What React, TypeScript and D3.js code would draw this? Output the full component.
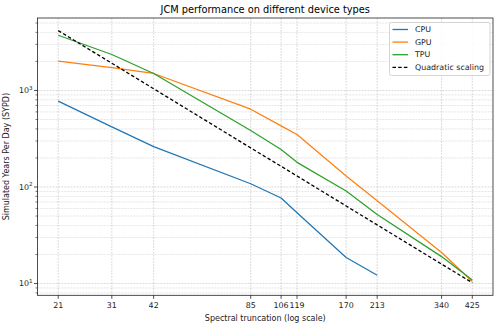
import React from "react";
import * as d3 from "d3";

// Spectral truncations (T21 ... T425) and throughput per device, in SYPD.
const RESOLUTIONS = [21, 31, 42, 85, 106, 119, 170, 213, 340, 425];
const CPU_SYPD = [775, 420, 262, 108, 77, 54, 18.6, 12.2];
const GPU_SYPD = [2010, 1720, 1500, 640, 430, 350, 130, 72, 21, 10.5];
const TPU_SYPD = [3730, 2360, 1500, 385, 245, 180, 91, 52, 19, 10.9];
const QUADRATIC_SYPD = [4170, 1914, 1042, 254, 164, 130, 63.6, 40.5, 15.9, 10.2];

const SERIES = [
  { name: "CPU", values: CPU_SYPD, color: "#1f77b4", dash: null as string | null },
  { name: "GPU", values: GPU_SYPD, color: "#ff7f0e", dash: null },
  { name: "TPU", values: TPU_SYPD, color: "#2ca02c", dash: null },
  { name: "Quadratic scaling", values: QUADRATIC_SYPD, color: "#000000", dash: "3.5 2.2" },
];

const Y_MAJOR = [10, 100, 1000];

const W = 500;
const H = 327;
const M = { top: 18, right: 7, bottom: 31.7, left: 37.5 };
const FONT = "DejaVu Sans, sans-serif";
const GRID = "#b0b0b0";
const TICK_FS = 7.9;

// matplotlib-style 5% padding in log space
function padLog(lo: number, hi: number, frac = 0.05): [number, number] {
  const a = Math.log10(lo);
  const b = Math.log10(hi);
  const p = (b - a) * frac;
  return [10 ** (a - p), 10 ** (b + p)];
}

export default function App() {
  const iW = W - M.left - M.right;
  const iH = H - M.top - M.bottom;

  const allY = SERIES.flatMap((s) => s.values);
  const x = d3
    .scaleLog()
    .domain(padLog(d3.min(RESOLUTIONS)!, d3.max(RESOLUTIONS)!))
    .range([0, iW]);
  const y = d3
    .scaleLog()
    .domain(padLog(d3.min(allY)!, d3.max(allY)!))
    .range([iH, 0]);

  const [yLo, yHi] = y.domain();
  const yMinor: number[] = [];
  for (let e = Math.floor(Math.log10(yLo)); e <= Math.ceil(Math.log10(yHi)); e++) {
    for (let k = 2; k <= 9; k++) {
      const v = k * 10 ** e;
      if (v >= yLo && v <= yHi) yMinor.push(v);
    }
  }

  const line = d3
    .line<number>()
    .x((_, i) => x(RESOLUTIONS[i]))
    .y((v) => y(v));

  return (
    <svg
      width={W}
      height={H}
      style={{ position: "absolute", left: 0, top: 0, background: "#fff" }}
      fontFamily={FONT}
    >
      <text x={M.left + iW / 2} y={12.8} textAnchor="middle" fontSize={9.8} fill="#000">
        JCM performance on different device types
      </text>

      <g transform={`translate(${M.left},${M.top})`}>
        {/* grid */}
        {yMinor.map((v) => (
          <line key={`ym${v}`} x1={0} x2={iW} y1={y(v)} y2={y(v)} stroke={GRID} strokeWidth={0.5} strokeDasharray="1.8 1.2" opacity={0.7} />
        ))}
        {Y_MAJOR.map((v) => (
          <line key={`yM${v}`} x1={0} x2={iW} y1={y(v)} y2={y(v)} stroke={GRID} strokeWidth={0.6} strokeDasharray="1.8 1.2" opacity={0.8} />
        ))}
        {RESOLUTIONS.map((r) => (
          <line key={`xg${r}`} x1={x(r)} x2={x(r)} y1={0} y2={iH} stroke={GRID} strokeWidth={0.6} strokeDasharray="1.8 1.2" opacity={0.8} />
        ))}

        {/* series */}
        {SERIES.map((s) => (
          <path
            key={s.name}
            d={line(s.values) ?? ""}
            fill="none"
            stroke={s.color}
            strokeWidth={s.dash ? 1.3 : 1.25}
            strokeDasharray={s.dash ?? undefined}
            strokeLinejoin="round"
          />
        ))}

        {/* spines */}
        <rect x={0} y={0} width={iW} height={iH} fill="none" stroke="#222" strokeWidth={0.8} />

        {/* x ticks */}
        {RESOLUTIONS.map((r) => (
          <g key={`xt${r}`} transform={`translate(${x(r)},${iH})`}>
            <line y1={0} y2={3.5} stroke="#222" strokeWidth={0.8} />
            <text y={13.2} textAnchor="middle" fontSize={TICK_FS} fill="#222">
              {r}
            </text>
          </g>
        ))}

        {/* y ticks */}
        {yMinor.map((v) => (
          <line key={`ymt${v}`} x1={-2} x2={0} y1={y(v)} y2={y(v)} stroke="#222" strokeWidth={0.6} />
        ))}
        {Y_MAJOR.map((v) => (
          <g key={`yt${v}`} transform={`translate(0,${y(v)})`}>
            <line x1={-3.5} x2={0} stroke="#222" strokeWidth={0.8} />
            <text x={-5} dy="0.35em" textAnchor="end" fontSize={TICK_FS} fill="#222">
              10
              <tspan fontSize={5.6} dy={-3.3}>
                {Math.round(Math.log10(v))}
              </tspan>
            </text>
          </g>
        ))}

        <text x={iW / 2} y={iH + 25.5} textAnchor="middle" fontSize={8} fill="#222">
          Spectral truncation (log scale)
        </text>
        <text
          transform={`translate(${-28.5},${iH / 2}) rotate(-90)`}
          textAnchor="middle"
          fontSize={8}
          fill="#222"
        >
          Simulated Years Per Day (SYPD)
        </text>
      </g>

      {/* legend */}
      <g transform="translate(389.5,22.5)">
        <rect width={100.5} height={53} rx={2} fill="#fff" fillOpacity={0.85} stroke="#cccccc" strokeWidth={0.8} />
        {SERIES.map((s, i) => (
          <g key={s.name} transform={`translate(0,${7 + i * 12.6})`}>
            <line x1={3} x2={18.5} stroke={s.color} strokeWidth={1.3} strokeDasharray={s.dash ?? undefined} />
            <text x={25.5} dy="0.35em" fontSize={7.9} fill="#222">
              {s.name}
            </text>
          </g>
        ))}
      </g>
    </svg>
  );
}
